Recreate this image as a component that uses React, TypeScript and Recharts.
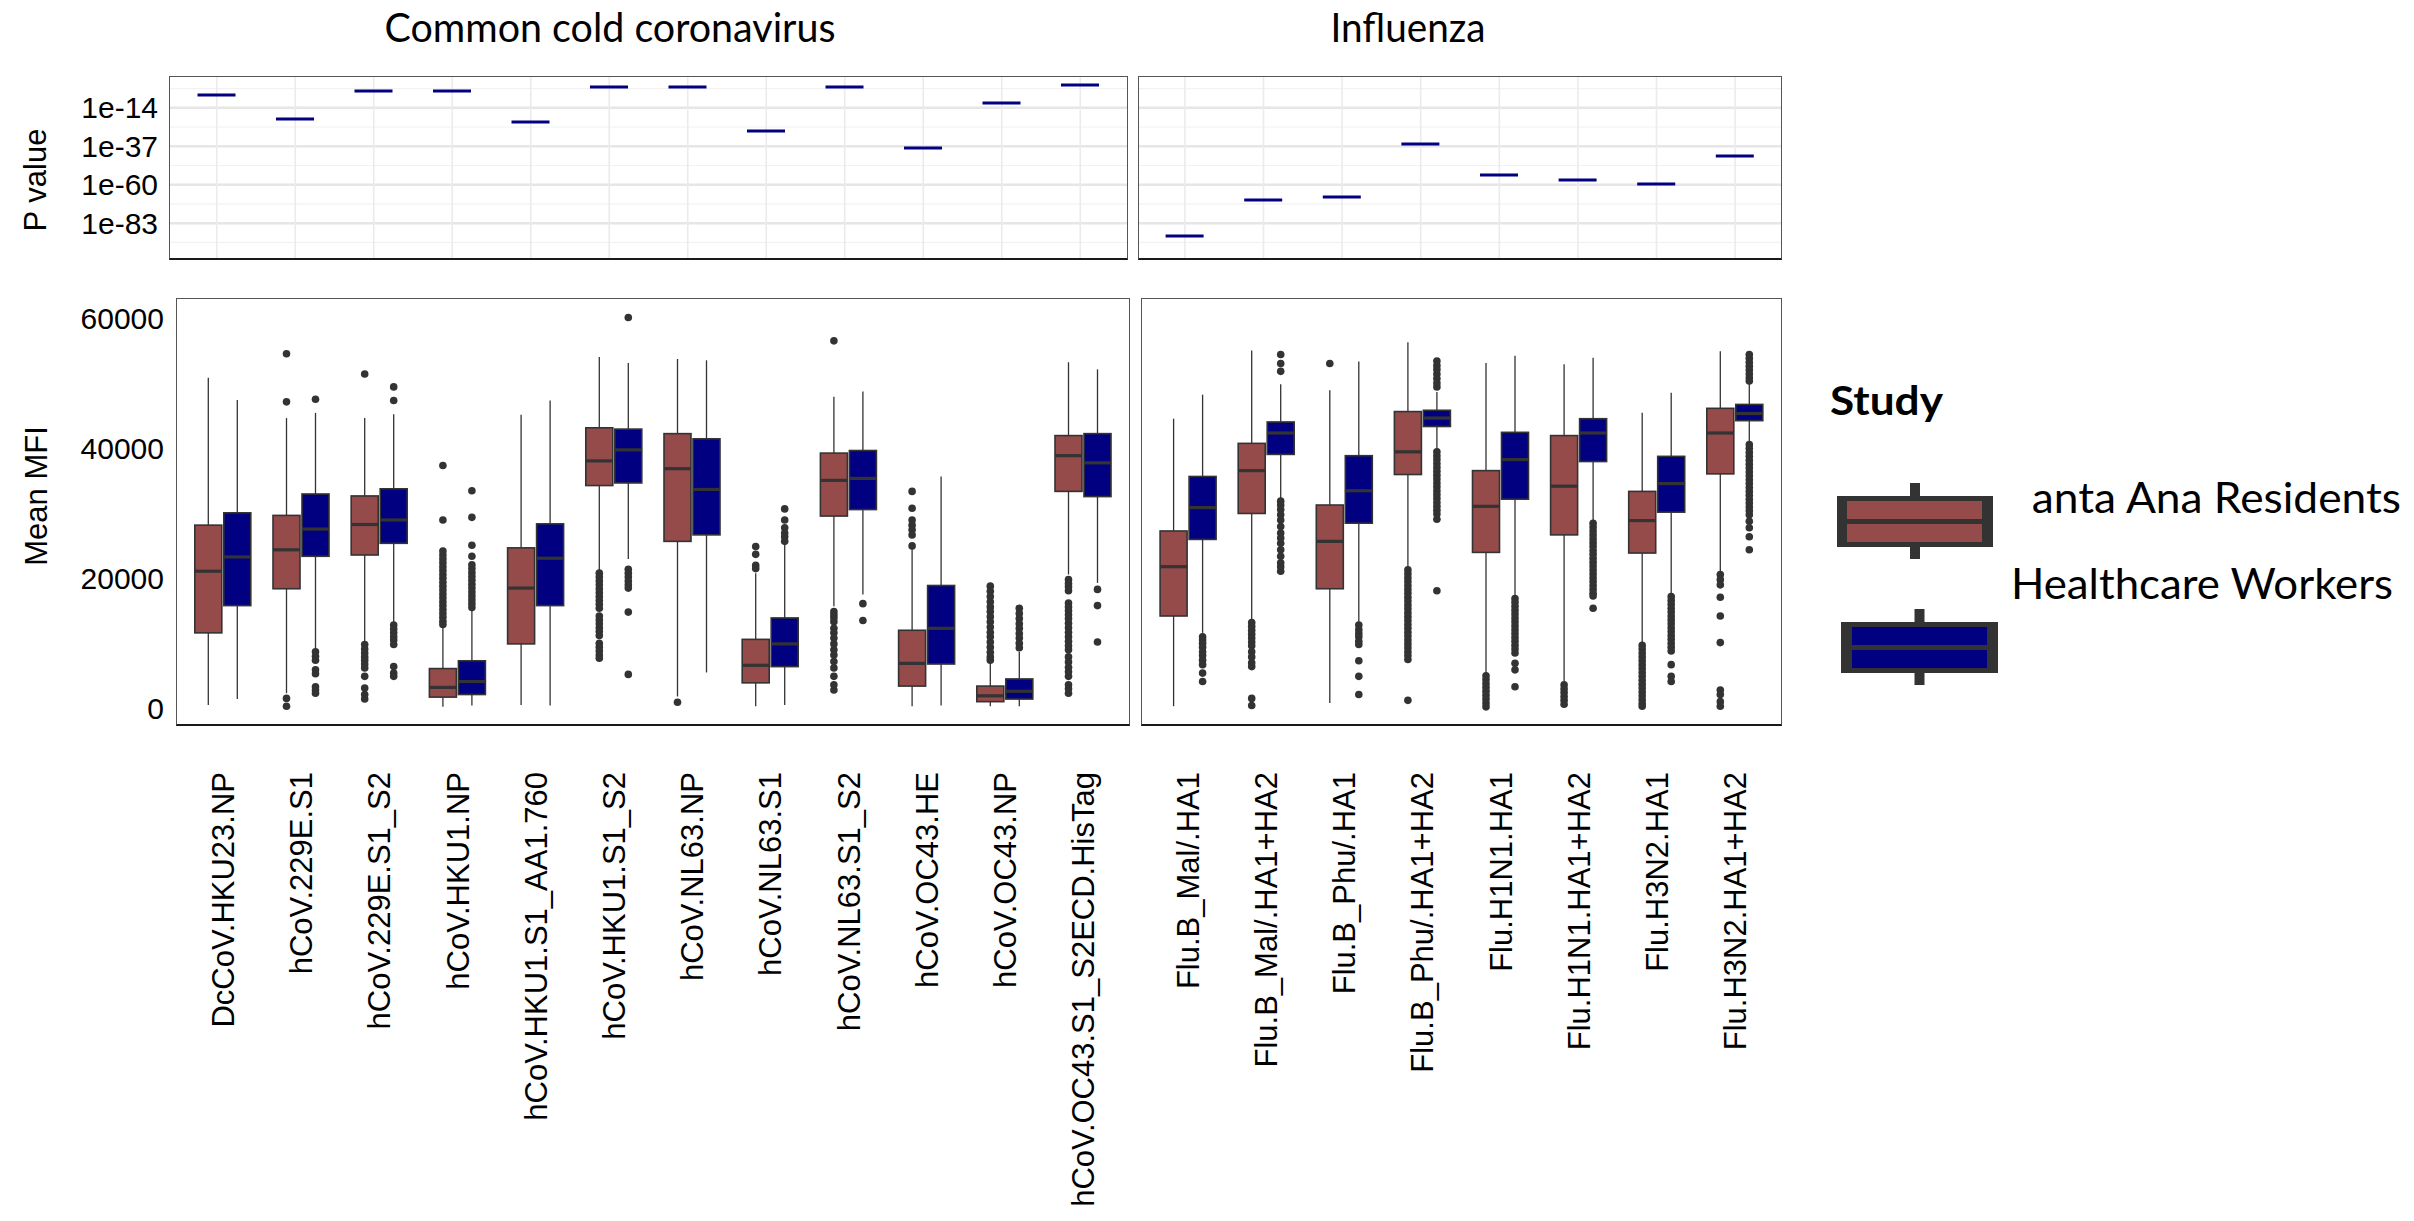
import React from 'react'
import { ComposedChart, Bar, XAxis, YAxis, ReferenceLine } from 'recharts'

// antigens per facet
const coronaAntigens = [
  'DcCoV.HKU23.NP', 'hCoV.229E.S1', 'hCoV.229E.S1_S2', 'hCoV.HKU1.NP', 'hCoV.HKU1.S1_AA1.760', 'hCoV.HKU1.S1_S2',
  'hCoV.NL63.NP', 'hCoV.NL63.S1', 'hCoV.NL63.S1_S2', 'hCoV.OC43.HE', 'hCoV.OC43.NP', 'hCoV.OC43.S1_S2ECD.HisTag',
]
const fluAntigens = [
  'Flu.B_Mal/.HA1', 'Flu.B_Mal/.HA1+HA2', 'Flu.B_Phu/.HA1', 'Flu.B_Phu/.HA1+HA2',
  'Flu.H1N1.HA1', 'Flu.H1N1.HA1+HA2', 'Flu.H3N2.HA1', 'Flu.H3N2.HA1+HA2',
]

// p value of the study comparison per antigen
const coronaPValues = [4e-7, 2.5e-21, 6e-5, 6e-5, 3e-23, 1.6e-2, 3e-2, 2e-28, 3e-2, 8e-39, 1e-11, 0.4]
const fluPValues = [2e-91, 5e-70, 5e-68, 2e-36, 1e-54, 1e-57, 4e-60, 1e-43]

const pTicks = [1e-83, 1e-60, 1e-37, 1e-14]
const pMinorTicks = [3.16e-95, 3.16e-72, 3.16e-49, 3.16e-26, 3.16e-3]
const mfiTicks = [0, 20000, 40000, 60000]

const studies = [
  { key: 'sa', label: 'Santa Ana Residents', color: '#964b4b' },
  { key: 'hcw', label: 'Healthcare Workers', color: '#000080' },
]

// [lower whisker, Q1, median, Q3, upper whisker]
const saCoronaBoxes = [
  [500, 11600, 21100, 28200, 50900],
  [2300, 18400, 24400, 29700, 44700],
  [10000, 23600, 28300, 32700, 44700],
  [200, 1700, 3200, 6100, 12600],
  [500, 9900, 18500, 24700, 45200],
  [21300, 34300, 38100, 43200, 54100],
  [1800, 25700, 36900, 42300, 53800],
  [300, 3900, 6600, 10600, 20800],
  [15700, 29600, 35100, 39300, 48000],
  [300, 3400, 6900, 12000, 24700],
  [300, 1000, 1900, 3400, 6900],
  [20600, 33400, 38900, 42000, 53300],
]
const saCoronaOutliers = [
  [],
  [54600, 47200, 1500, 300],
  [51500, 9800, 9100, 8500, 7900, 7400, 6800, 6200, 4900, 3100, 2100, 1400],
  [37400, 29000, 24200, 23600, 23000, 22400, 21800, 21200, 20600, 20000, 19400, 18800, 18200, 17600, 17000, 16400,
    15800, 15200, 14600, 14000, 13400, 12900],
  [],
  [20800, 20200, 19600, 19000, 18400, 17800, 17200, 16600, 16000, 15400, 14200, 13600, 13000, 12400, 11800, 11200,
    10000, 9400, 8800, 8200, 7700],
  [900],
  [24900, 23700, 22000, 21500],
  [56600, 14900, 14400, 13900, 13300, 12300, 11600, 10800, 9900, 9000, 8200, 7200, 6200, 4900, 3600, 2800],
  [33400, 30800, 29000, 28200, 27500, 26700, 25000],
  [18800, 18000, 17200, 16400, 15600, 14900, 14100, 13300, 12500, 11700, 11000, 10200, 9400, 8600, 7900, 7400],
  [19800, 19200, 18700, 18100, 16200, 15600, 15000, 14400, 13800, 13100, 12400, 11700, 11000, 10300, 9600, 9000,
    7900, 7100, 6300, 5600, 4900, 3600, 3000, 2300],
]
const hcwCoronaBoxes = [
  [1400, 15800, 23300, 30100, 47500],
  [9200, 23400, 27600, 33000, 45500],
  [13100, 25400, 29000, 33800, 45300],
  [400, 2100, 4100, 7300, 15200],
  [400, 15800, 23100, 28400, 47400],
  [23000, 34700, 39800, 43000, 53200],
  [5500, 26700, 33700, 41500, 53600],
  [500, 6400, 9900, 13900, 25200],
  [17500, 30600, 35400, 39700, 48800],
  [400, 6800, 12300, 18900, 35700],
  [300, 1400, 2600, 4500, 8700],
  [19300, 32600, 37800, 42300, 52200],
]
const hcwCoronaOutliers = [
  [],
  [47600, 8700, 8000, 7400, 5900, 5300, 3300, 2800, 2300],
  [49500, 47400, 12800, 12200, 11600, 11000, 10500, 9800, 6400, 5400, 4900],
  [33500, 29400, 25100, 23400, 22100, 21500, 20900, 20300, 19700, 19100, 18500, 17900, 17300, 16700, 16100, 15500],
  [],
  [60200, 21400, 20800, 20200, 19600, 19000, 18500, 14800, 5200],
  [],
  [30700, 29000, 27800, 27000, 26400, 25700],
  [16100, 13500],
  [],
  [15400, 14600, 13800, 13000, 12300, 11500, 10800, 10000, 9300],
  [18300, 15800, 10200],
]
const saFluBoxes = [
  [300, 14200, 21800, 27300, 44600],
  [13600, 30000, 36600, 40800, 55100],
  [800, 18400, 25700, 31300, 49000],
  [21800, 36000, 39500, 45700, 56400],
  [5400, 24000, 31100, 36600, 53200],
  [4100, 26700, 34200, 42000, 53000],
  [10000, 23900, 28900, 33400, 45500],
  [21100, 36100, 42400, 46200, 55000],
]
const saFluOutliers = [
  [],
  [13200, 12600, 12000, 11400, 10800, 10200, 9600, 8700, 7900, 7000, 6400, 1500, 400],
  [53100],
  [21300, 20700, 20100, 19500, 18900, 18300, 17700, 17100, 16500, 15900, 15300, 14700, 14100, 13500, 12900, 12300,
    11700, 11100, 10500, 9900, 9300, 8700, 8100, 7500, 1200],
  [5000, 4400, 3800, 3200, 2600, 2000, 1400, 800, 200],
  [3600, 3000, 2400, 1800, 1200, 600],
  [9700, 9100, 8500, 7900, 7300, 6700, 6100, 5500, 4900, 4300, 3700, 3100, 2500, 1900, 1300, 700, 300],
  [20600, 19800, 19000, 17100, 14200, 10100, 2800, 2100, 1000, 300],
]
const hcwFluBoxes = [
  [11600, 26000, 30900, 35700, 48300],
  [32100, 39100, 42400, 44100, 49900],
  [13100, 28500, 33500, 38900, 53400],
  [39800, 43400, 44700, 45900, 48700],
  [17200, 32200, 38300, 42500, 54300],
  [28800, 38000, 42400, 44600, 54000],
  [17500, 30200, 34600, 38800, 48600],
  [40900, 44300, 45400, 46800, 50000],
]
const hcwFluOutliers = [
  [11000, 10500, 10000, 9400, 8700, 8100, 7400, 6700, 5400, 4100],
  [54500, 53100, 51900, 31900, 31300, 30600, 29800, 29000, 28000, 27000, 26200, 25400, 24400, 23400, 22400, 21800, 21100],
  [12800, 12100, 11500, 11000, 10300, 9800, 7300, 4900, 2100],
  [53500, 52800, 52200, 51500, 50800, 50100, 49500, 39500, 38900, 38300, 37700, 37100, 36500, 35900, 35300, 34700,
    34100, 33500, 32900, 32300, 31700, 31100, 30500, 29900, 29100, 18100],
  [16900, 16300, 15700, 15100, 14500, 13900, 13300, 12700, 12100, 11500, 10900, 10300, 9700, 9100, 8500, 6900, 5900, 3300],
  [28500, 27900, 27300, 26700, 26100, 25500, 24900, 24300, 23700, 23100, 22500, 21900, 21300, 20700, 20100, 19500,
    18900, 18300, 17700, 17300, 15400],
  [17200, 16600, 16000, 15400, 14800, 14200, 13600, 13000, 12400, 11800, 11200, 10600, 10000, 9400, 8800, 6700, 4900, 4100],
  [54500, 53900, 53300, 52700, 52100, 51500, 50900, 50400, 40600, 40000, 39400, 38800, 38200, 37600, 37000, 36400,
    35800, 35200, 34600, 34000, 33400, 32800, 32200, 31600, 31000, 30400, 29800, 28800, 27800, 26400, 24400],
]

const buildRows = (names: string[], pvals: number[], saB: number[][], saO: number[][], hB: number[][], hO: number[][]) =>
  names.map((name, i) => ({
    name,
    p: pvals[i],
    sa: { box: saB[i], out: saO[i] },
    hcw: { box: hB[i], out: hO[i] },
  }))

const coronaRows = buildRows(coronaAntigens, coronaPValues, saCoronaBoxes, saCoronaOutliers, hcwCoronaBoxes, hcwCoronaOutliers)
const fluRows = buildRows(fluAntigens, fluPValues, saFluBoxes, saFluOutliers, hcwFluBoxes, hcwFluOutliers)

const extent = (s: any) => {
  const all = [...s.box, ...s.out]
  return [Math.min(...all), Math.max(...all)]
}
const rangeOf = (key: string) => (d: any) => extent(d[key])

const ARIAL = '"Liberation Sans", Arial, sans-serif'
const CALIBRI = 'Lato, "Open Sans", sans-serif'
const DARK = '#333333'

const BoxShape = (props: any) => {
  const { x, y, width, height, studyKey, color } = props
  const d = props.payload ?? props
  const s = d[studyKey]
  if (!s) return null
  const [lo, hi] = extent(s)
  const top = Math.min(y, y + height)
  const h = Math.abs(height)
  const py = (v: number) => (hi === lo ? top : top + ((hi - v) / (hi - lo)) * h)
  const [wl, q1, med, q3, wh] = s.box
  const cx = x + width / 2
  return (
    <g>
      <line x1={cx} x2={cx} y1={py(wh)} y2={py(q3)} stroke={DARK} strokeWidth={1.3} />
      <line x1={cx} x2={cx} y1={py(q1)} y2={py(wl)} stroke={DARK} strokeWidth={1.3} />
      <rect x={x} y={py(q3)} width={width} height={py(q1) - py(q3)} fill={color} stroke={DARK} strokeWidth={1.6} />
      <line x1={x} x2={x + width} y1={py(med)} y2={py(med)} stroke={DARK} strokeWidth={3.2} />
      {s.out.map((v: number, i: number) => (
        <circle key={i} cx={cx} cy={py(v)} r={3.8} fill={DARK} />
      ))}
    </g>
  )
}

const PMark = (props: any) => (
  <rect x={props.x} y={Math.round(props.y) - 1.5} width={props.width} height={3} fill="#000080" />
)

// label top, in chart coords (plot bottom is at 446)
const LABEL_Y = 446 + 46

const XTick = (props: any) => {
  const { x, payload } = props
  const bx = x + 11
  return (
    <text x={bx} y={LABEL_Y} transform={`rotate(-90, ${bx}, ${LABEL_Y})`} textAnchor="end"
      fontSize={31} fontFamily={ARIAL} fill="#000">
      {payload.value}
    </text>
  )
}

const Frame = ({ x0, y0, x1, y1 }: any) => (
  <div style={{
    position: 'absolute', left: x0, top: y0, width: x1 - x0, height: y1 - y0, boxSizing: 'border-box',
    borderTop: '1.5px solid #555', borderLeft: '1.5px solid #555', borderRight: '1.5px solid #555',
    borderBottom: '2.5px solid #1a1a1a',
  }} />
)

const P_DOMAIN = [1e-105, 1e5]

function PPanel({ rows, left, width, margin, showAxis, padding }: any) {
  const markMargin = { ...margin, left: margin.left + (showAxis ? 169 : 0) }
  return (
    <div style={{ position: 'absolute', left, top: 0 }}>
      {/* grid + axis underneath */}
      <div style={{ position: 'absolute', left: 0, top: 0 }}>
        <ComposedChart width={width} height={262} data={rows} margin={margin}>
          <XAxis dataKey="name" type="category" scale="band" hide padding={{ left: padding, right: padding }} />
          <YAxis type="number" scale="log" domain={P_DOMAIN} allowDataOverflow ticks={pTicks} interval={0}
            hide={!showAxis} width={169} axisLine={false} tickLine={false} tickSize={4} tickMargin={7}
            tickFormatter={(v: number) => `1e${Math.round(Math.log10(v))}`}
            tick={{ fontSize: 30, fill: '#000', fontFamily: ARIAL }} />
          {pMinorTicks.map(v => <ReferenceLine key={'m' + v} y={v} stroke="#f2f2f2" strokeWidth={1.2} />)}
          {pTicks.map(v => <ReferenceLine key={'t' + v} y={v} stroke="#e6e6e6" strokeWidth={2.4} />)}
          {rows.map((r: any) => <ReferenceLine key={r.name} x={r.name} stroke="#ebebeb" strokeWidth={1.6} />)}
        </ComposedChart>
      </div>
      {/* p value marks on top of the grid */}
      <div style={{ position: 'absolute', left: 0, top: 0 }}>
        <ComposedChart width={width} height={262} data={rows} margin={markMargin}>
          <XAxis dataKey="name" type="category" scale="band" hide padding={{ left: padding, right: padding }} />
          <YAxis type="number" scale="log" domain={P_DOMAIN} allowDataOverflow hide />
          <Bar dataKey="p" barSize={38} shape={PMark} isAnimationActive={false} />
        </ComposedChart>
      </div>
    </div>
  )
}

function MfiPanel({ rows, left, width, margin, showAxis, padding }: any) {
  return (
    <div style={{ position: 'absolute', left, top: 280 }}>
      <ComposedChart width={width} height={941} data={rows} margin={margin} barGap={2}>
        <XAxis dataKey="name" type="category" scale="band" interval={0} height={495}
          padding={{ left: padding, right: padding }}
          axisLine={false} tickLine={false} tickSize={0} tickMargin={0} tick={XTick} />
        <YAxis type="number" domain={[-2750, 63200]} allowDataOverflow ticks={mfiTicks} interval={0} hide={!showAxis}
          width={176} axisLine={false} tickLine={false} tickSize={4} tickMargin={8}
          tick={{ fontSize: 30, fill: '#000', fontFamily: ARIAL }} />
        {studies.map(st => (
          <Bar key={st.key} dataKey={rangeOf(st.key)} barSize={27} isAnimationActive={false}
            shape={(p: any) => <BoxShape {...p} studyKey={st.key} color={st.color} />} />
        ))}
      </ComposedChart>
    </div>
  )
}

const legendKeys = [
  { left: 1837, top: 496, w: 156, inL: 10, inR: 11, textX: 2008, textY: 513, textLen: 393 },
  { left: 1841, top: 622, w: 157, inL: 11, inR: 11, textX: 2011, textY: 599, textLen: 382 },
]

function Overlay() {
  return (
    <svg width={2414} height={1221} style={{ position: 'absolute', left: 0, top: 0, pointerEvents: 'none' }}>
      <defs>
        <clipPath id="legendClip">
          <rect x={2033} y={440} width={381} height={200} />
        </clipPath>
      </defs>
      <text x={610} y={42} textAnchor="middle" fontSize={40} fontFamily={CALIBRI} fill="#000"
        textLength={451} lengthAdjust="spacingAndGlyphs">Common cold coronavirus</text>
      <text x={1408} y={42} textAnchor="middle" fontSize={40} fontFamily={CALIBRI} fill="#000"
        textLength={155} lengthAdjust="spacingAndGlyphs">Influenza</text>
      <text x={46} y={180} transform="rotate(-90, 46, 180)" textAnchor="middle" fontSize={31}
        fontFamily={ARIAL} fill="#000">P value</text>
      <text x={47} y={496} transform="rotate(-90, 47, 496)" textAnchor="middle" fontSize={31}
        fontFamily={ARIAL} fill="#000">Mean MFI</text>

      <text x={1830} y={415} fontSize={41} fontWeight={700} fontFamily={CALIBRI} fill="#000"
        textLength={113} lengthAdjust="spacingAndGlyphs">Study</text>
      {studies.map((st, i) => {
        const k = legendKeys[i]
        const cx = k.left + k.w / 2
        return (
          <g key={st.key}>
            <rect x={cx - 5} y={k.top - 13} width={10} height={13} fill={DARK} />
            <rect x={cx - 5} y={k.top + 50} width={10} height={13} fill={DARK} />
            <rect x={k.left} y={k.top} width={k.w} height={51} fill={DARK} />
            <rect x={k.left + k.inL} y={k.top + 5} width={k.w - k.inL - k.inR} height={41} fill={st.color} />
            <rect x={k.left + k.inL} y={k.top + 23} width={k.w - k.inL - k.inR} height={5} fill={DARK} />
            <text x={k.textX} y={k.textY} fontSize={43} fontFamily={CALIBRI} fill="#000"
              textLength={k.textLen} lengthAdjust="spacingAndGlyphs"
              clipPath={i === 0 ? 'url(#legendClip)' : undefined}>{st.label}</text>
          </g>
        )
      })}
    </svg>
  )
}

export default function App() {
  return (
    <div style={{ position: 'absolute', left: 0, top: 0, width: 2414, height: 1221, background: '#fff', overflow: 'hidden' }}>
      <PPanel rows={coronaRows} left={0} width={1134} margin={{ top: 76, right: 6, bottom: 2, left: 0 }} showAxis padding={8.5} />
      <PPanel rows={fluRows} left={1130} width={660} margin={{ top: 76, right: 8, bottom: 2, left: 8 }} showAxis={false} padding={7.6} />
      <MfiPanel rows={coronaRows} left={0} width={1136} margin={{ top: 18, right: 6, bottom: 0, left: 0 }} showAxis padding={7.8} />
      <MfiPanel rows={fluRows} left={1130} width={660} margin={{ top: 18, right: 8, bottom: 0, left: 11 }} showAxis={false} padding={8.1} />
      <Frame x0={169} y0={76} x1={1128} y1={260} />
      <Frame x0={1138} y0={76} x1={1782} y1={260} />
      <Frame x0={176} y0={298} x1={1130} y1={726} />
      <Frame x0={1141} y0={298} x1={1782} y1={726} />
      <Overlay />
    </div>
  )
}
